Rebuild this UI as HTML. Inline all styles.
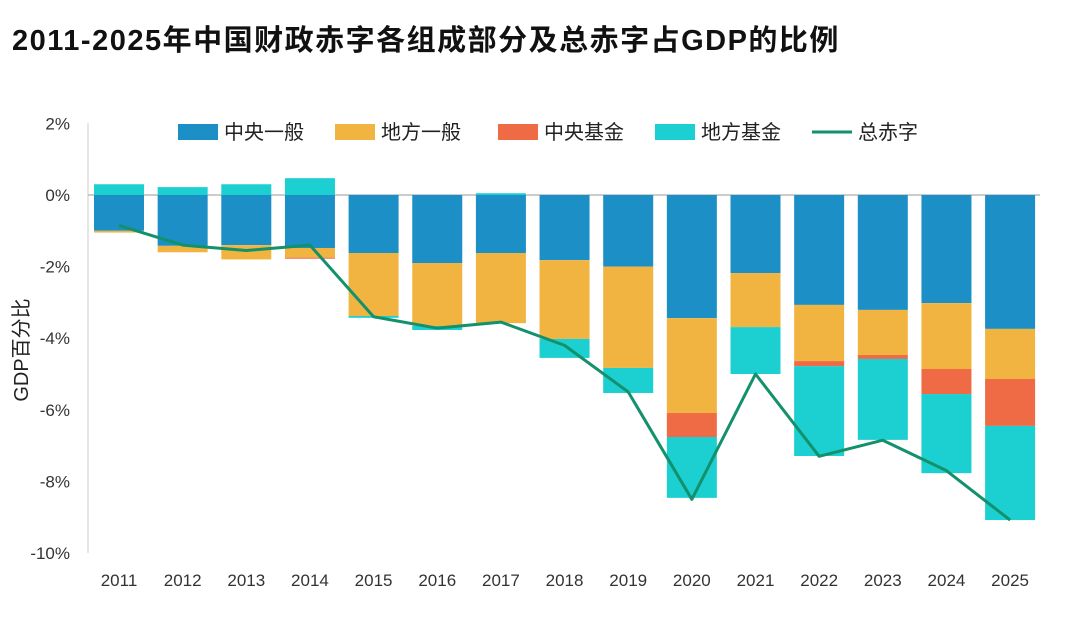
<!DOCTYPE html>
<html><head><meta charset="utf-8"><style>
body{margin:0;background:#fff;width:1080px;height:617px;overflow:hidden;font-family:"Liberation Sans","Noto Sans CJK SC",sans-serif}
#title{position:absolute;left:12px;top:17px;font-size:29px;letter-spacing:1.5px;font-weight:bold;color:#111;font-family:"Liberation Sans","Noto Sans CJK SC",sans-serif;white-space:nowrap}
svg{position:absolute;left:0;top:0}
</style></head><body>
<div id="title">2011-2025年中国财政赤字各组成部分及总赤字占GDP的比例</div>
<svg id="chart" width="1080" height="617"></svg>
<script>
const years=["2011","2012","2013","2014","2015","2016","2017","2018","2019","2020","2021","2022","2023","2024","2025"];
const centralGeneral=[-1.0,-1.42,-1.4,-1.48,-1.62,-1.9,-1.62,-1.82,-2.0,-3.44,-2.18,-3.07,-3.21,-3.02,-3.74];
const localGeneral=[-0.05,-0.18,-0.4,-0.27,-1.76,-1.76,-1.96,-2.2,-2.83,-2.65,-1.51,-1.57,-1.26,-1.84,-1.4];
const centralFund=[0,0,0,-0.03,0,0,0,0,0,-0.67,0,-0.14,-0.11,-0.7,-1.31];
const localFund=[0.3,0.22,0.3,0.47,-0.05,-0.11,0.05,-0.53,-0.7,-1.7,-1.31,-2.51,-2.26,-2.21,-2.63];
const totalDeficit=[-0.85,-1.4,-1.55,-1.4,-3.4,-3.72,-3.55,-4.2,-5.5,-8.5,-5.0,-7.3,-6.85,-7.7,-9.08];
const yTicks=[2,0,-2,-4,-6,-8,-10];
const seriesNames=["中央一般","地方一般","中央基金","地方基金"];
const colors=["#1b8fc6","#f2b440","#ef6b45","#1ccfd0"];
const NS="http://www.w3.org/2000/svg";
const svg=document.getElementById('chart');
const y=v=>195-v*35.8;
const x=i=>119+i*63.65;
const bw=50;
function mk(t,a){const e=document.createElementNS(NS,t);for(const k in a)e.setAttribute(k,a[k]);svg.appendChild(e);return e;}
let ax=mk('line',{x1:88,x2:88,y1:123,y2:553,stroke:'#ccc','stroke-width':1});

let zl=mk('line',{x1:88,x2:1040,y1:y(0),y2:y(0),stroke:'#bbb','stroke-width':1.5});

yTicks.forEach(t=>{const e=mk('text',{x:70,y:y(t)+6,'text-anchor':'end','font-size':17,fill:'#333'});e.textContent=t+'%';
});
const yl=mk('text',{x:0,y:0,transform:'translate(28,350) rotate(-90)','text-anchor':'middle','font-size':20,fill:'#222'});yl.textContent='GDP百分比';

const series=[centralGeneral,localGeneral,centralFund,localFund];
years.forEach((yr,i)=>{
  let neg=0,pos=0;
  series.forEach((s,k)=>{const v=s[i];if(v===0)return;let a,b;
    if(v<0){a=neg;b=neg+v;neg=b;}else{a=pos;b=pos+v;pos=b;}
    const r=mk('rect',{x:x(i)-bw/2,y:Math.min(y(a),y(b)),width:bw,height:Math.abs(y(a)-y(b)),fill:colors[k]});
    });
  const t=mk('text',{x:x(i),y:586,'text-anchor':'middle','font-size':17,fill:'#333'});t.textContent=yr;
  
});
const pl=mk('polyline',{points:totalDeficit.map((v,i)=>x(i)+','+y(v)).join(' '),fill:'none',stroke:'#12916c','stroke-width':3,'stroke-linejoin':'round'});

const lx=[178,335,498,655,812];
seriesNames.concat(['总赤字']).forEach((n,k)=>{
  let sw;
  if(k<4)sw=mk('rect',{x:lx[k],y:124,width:40,height:16,fill:colors[k]});
  else sw=mk('line',{x1:lx[k],x2:lx[k]+40,y1:132,y2:132,stroke:'#12916c','stroke-width':3});
  
  const t=mk('text',{x:lx[k]+46,y:139,'font-size':20,fill:'#222'});t.textContent=n;
  
});
</script>
</body></html>
